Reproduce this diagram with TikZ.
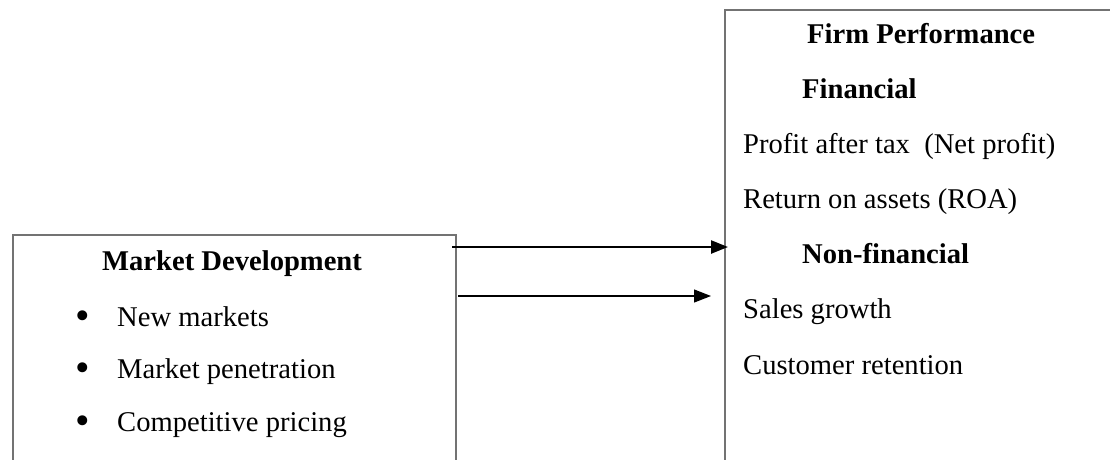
\documentclass[tikz,border=0pt]{standalone}
\usepackage{fontspec}
\setmainfont{Liberation Serif}
\usetikzlibrary{arrows.meta}

\newcommand{\bigdot}{\makebox[43pt][l]{\hspace{1pt}\raisebox{-3pt}{\scalebox{1.45}{\textbullet}}}}

\begin{document}
\begin{tikzpicture}[x=1pt,y=-1pt,
	box/.style={rectangle,draw=black!55,line width=1.6pt,anchor=north west,inner sep=0pt},
	heading/.style={anchor=base west,inner sep=0pt,font=\fontsize{28.6}{30}\selectfont\bfseries},
	item/.style={anchor=base west,inner sep=0pt,font=\fontsize{28.6}{30}\selectfont},
	link/.style={-{Triangle[length=17pt,width=13pt]},line width=1.2pt}]
	\useasboundingbox[fill=white] (0,0) rectangle (1110,459);
	\clip (0,0) rectangle (1110,459);
	\node[box,minimum width=443pt,minimum height=260pt] (MD) at (12,234) {};
	\node[box,minimum width=420pt,minimum height=480pt] (FP) at (724,9) {};
	\node[heading] (MDt) at (102,270) {Market Development};
	\node[item] (M1) at (74,326) {\bigdot New markets};
	\node[item] (M2) at (74,378) {\bigdot Market penetration};
	\node[item] (M3) at (74,431) {\bigdot Competitive pricing};
	\node[heading] (FPt) at (807,43) {Firm Performance};
	\node[heading] (F) at (802,98) {Financial};
	\node[item] (F1) at (743,153) {Profit after tax\ \ (Net profit)};
	\node[item] (F2) at (743,208) {Return on assets (ROA)};
	\node[heading] (N) at (802,263) {Non-financial};
	\node[item] (N1) at (743,318) {Sales growth};
	\node[item] (N2) at (743,374) {Customer retention};
	\coordinate (s1) at (452,247);
	\coordinate (e1) at (728,247);
	\coordinate (s2) at (458,296);
	\coordinate (e2) at (711,296);
	\draw[link,line width=2.4pt] (s1) -- (e1);
	\draw[link] (s2) -- (e2);
\end{tikzpicture}
\end{document}
